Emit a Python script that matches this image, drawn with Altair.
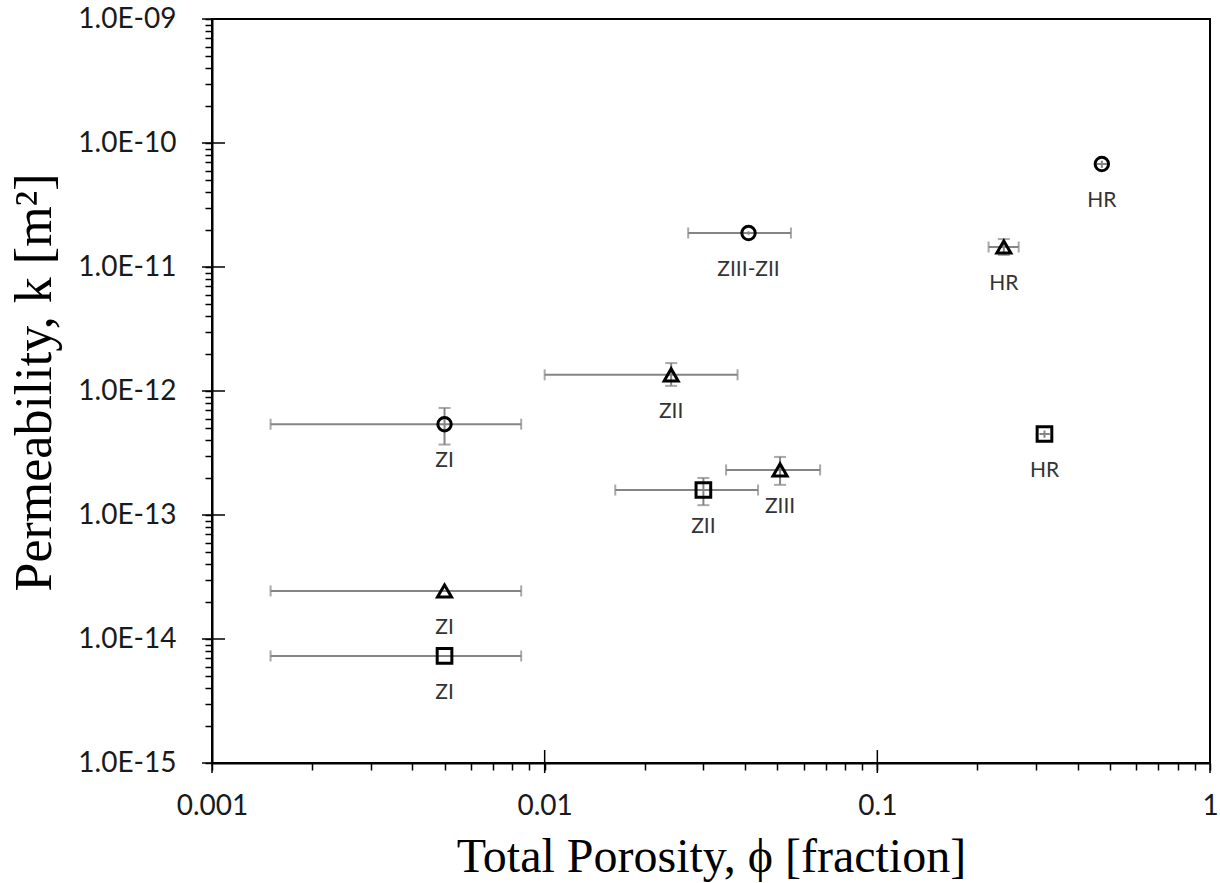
import altair as alt
import pandas as pd

# ---- data ----
series = ["S1", "S2", "S3", "S1", "S2", "S3", "S2", "S2", "S1", "S3"]
zone = ["ZI", "ZI", "ZI", "ZIII-ZII", "ZII", "ZII", "ZIII", "HR", "HR", "HR"]
phi = [0.005, 0.005, 0.005, 0.041, 0.024, 0.030, 0.051, 0.24, 0.473, 0.318]
phi_lo = [0.0015, 0.0015, 0.0015, 0.027, 0.010, 0.0163, 0.0351, 0.216, 0.456, 0.307]
phi_hi = [0.0085, 0.0085, 0.0085, 0.055, 0.038, 0.0438, 0.0673, 0.266, 0.490, 0.330]
k = [5.4e-13, 2.44e-14, 7.3e-15, 1.88e-11, 1.35e-12, 1.59e-13, 2.31e-13, 1.45e-11, 6.77e-11, 4.5e-13]
k_lo = [3.7e-13, 2.44e-14, 7.3e-15, 1.82e-11, 1.10e-12, 1.20e-13, 1.75e-13, 1.25e-11, 6.3e-11, 4.2e-13]
k_hi = [7.3e-13, 2.44e-14, 7.3e-15, 1.94e-11, 1.68e-12, 1.99e-13, 2.94e-13, 1.68e-11, 7.2e-11, 4.8e-13]

x_major = [0.001, 0.01, 0.1, 1.0]
x_minor = [m * 10.0 ** e for e in (-3, -2, -1) for m in range(2, 10)]
y_major = [10.0 ** e for e in range(-15, -8)]
y_minor = [m * 10.0 ** e for e in range(-15, -9) for m in range(2, 10)]

df = pd.DataFrame(dict(series=series, zone=zone, phi=phi, phi_lo=phi_lo,
                       phi_hi=phi_hi, k=k, k_lo=k_lo, k_hi=k_hi))
xmaj_df = pd.DataFrame({"v": x_major})
ymaj_df = pd.DataFrame({"v": y_major})

W, H = 998, 744
GRAY = "#858585"

x_scale = alt.Scale(type="log", domain=[0.001, 1])
y_scale = alt.Scale(type="log", domain=[1e-15, 1e-9])

is_major = "abs(log(datum.value)/LN10 - round(log(datum.value)/LN10)) < 1e-6"
X_AX = alt.Axis(
    values=x_major + x_minor,
    labelExpr=f"({is_major}) ? format(datum.value, '~g') : ''",
    grid=False, tickSize=7, tickWidth=1.5, tickColor="black",
    domainColor="black", domainWidth=2,
    labelFont="Lato", labelFontSize=28, labelColor="#1a1a1a",
    labelBaseline="middle", labelPadding=36, labelOverlap=False, labelFlush=False,
    title="Total Porosity, ϕ [fraction]", titleFont="Liberation Serif",
    titleFontSize=48, titleFontWeight="normal", titleColor="black",
    titleX=W / 2, titleY=94, titleAlign="center", titleBaseline="middle",
)
Y_AX = alt.Axis(
    values=y_major + y_minor,
    labelExpr=(f"({is_major}) ? ('1.0E-' + ((-round(log(datum.value)/LN10)) < 10 ? '0' : '')"
               " + (-round(log(datum.value)/LN10))) : ''"),
    grid=False, tickSize=7, tickWidth=1.5, tickColor="black",
    domainColor="black", domainWidth=2,
    labelFont="Lato", labelFontSize=28, labelColor="#1a1a1a",
    labelPadding=29, labelOverlap=False, labelFlush=False,
    title="Permeability, k [m²]", titleFont="Liberation Serif",
    titleFontSize=52, titleFontWeight="normal", titleColor="black",
    titleX=-178, titleY=363, titleAngle=270, titleAlign="center", titleBaseline="middle",
)

base = alt.Chart(df)

xerr = base.mark_rule(color=GRAY, strokeWidth=2).encode(
    x=alt.X("phi_lo:Q", scale=x_scale, axis=X_AX), x2="phi_hi:Q",
    y=alt.Y("k:Q", scale=y_scale, axis=Y_AX))
yerr = base.mark_rule(color=GRAY, strokeWidth=2).encode(
    x=alt.X("phi:Q", scale=x_scale, axis=X_AX),
    y=alt.Y("k_lo:Q", scale=y_scale, axis=Y_AX), y2="k_hi:Q")

xcap_f = base.transform_filter("datum.phi_hi > datum.phi * 1.06")
xcap_lo = xcap_f.mark_tick(orient="vertical", color=GRAY, size=11, thickness=2).encode(
    x=alt.X("phi_lo:Q", scale=x_scale, axis=X_AX), y=alt.Y("k:Q", scale=y_scale, axis=Y_AX))
xcap_hi = xcap_f.mark_tick(orient="vertical", color=GRAY, size=11, thickness=2).encode(
    x=alt.X("phi_hi:Q", scale=x_scale, axis=X_AX), y=alt.Y("k:Q", scale=y_scale, axis=Y_AX))

ycap_f = base.transform_filter("datum.k_hi > datum.k * 1.08")
ycap_lo = ycap_f.mark_tick(orient="horizontal", color=GRAY, size=12, thickness=2).encode(
    x=alt.X("phi:Q", scale=x_scale, axis=X_AX), y=alt.Y("k_lo:Q", scale=y_scale, axis=Y_AX))
ycap_hi = ycap_f.mark_tick(orient="horizontal", color=GRAY, size=12, thickness=2).encode(
    x=alt.X("phi:Q", scale=x_scale, axis=X_AX), y=alt.Y("k_hi:Q", scale=y_scale, axis=Y_AX))

points = base.mark_point(filled=False, stroke="black", strokeWidth=3, opacity=1).encode(
    x=alt.X("phi:Q", scale=x_scale, axis=X_AX),
    y=alt.Y("k:Q", scale=y_scale, axis=Y_AX),
    shape=alt.Shape("series:N", scale=alt.Scale(domain=["S1", "S2", "S3"],
                                                 range=["circle", "triangle-up", "square"]),
                    legend=None),
    size=alt.Size("series:N", scale=alt.Scale(domain=["S1", "S2", "S3"],
                                               range=[180, 215, 130]), legend=None),
)

labels = base.mark_text(dy=37, font="Lato", fontSize=21, color="#333333",
                        baseline="middle", align="center").encode(
    x=alt.X("phi:Q", scale=x_scale, axis=X_AX),
    y=alt.Y("k:Q", scale=y_scale, axis=Y_AX),
    text="zone:N")

xmaj = alt.Chart(xmaj_df).mark_rule(color="black", strokeWidth=1.5).encode(
    x=alt.X("v:Q", scale=x_scale, axis=X_AX), y=alt.value(H - 13), y2=alt.value(H + 10))
ymaj = alt.Chart(ymaj_df).mark_rule(color="black", strokeWidth=1.5).encode(
    y=alt.Y("v:Q", scale=y_scale, axis=Y_AX), x=alt.value(-10), x2=alt.value(13))

chart = alt.layer(xerr, yerr, xcap_lo, xcap_hi, ycap_lo, ycap_hi, points, labels, xmaj, ymaj).properties(
    width=W, height=H,
    autosize=alt.AutoSizeParams(type="none"),
    padding={"left": 212, "top": 19, "right": 10, "bottom": 120},
).configure_view(stroke="black", strokeWidth=2)

chart.save("out.html", embed_options={"renderer": "svg", "actions": False})
